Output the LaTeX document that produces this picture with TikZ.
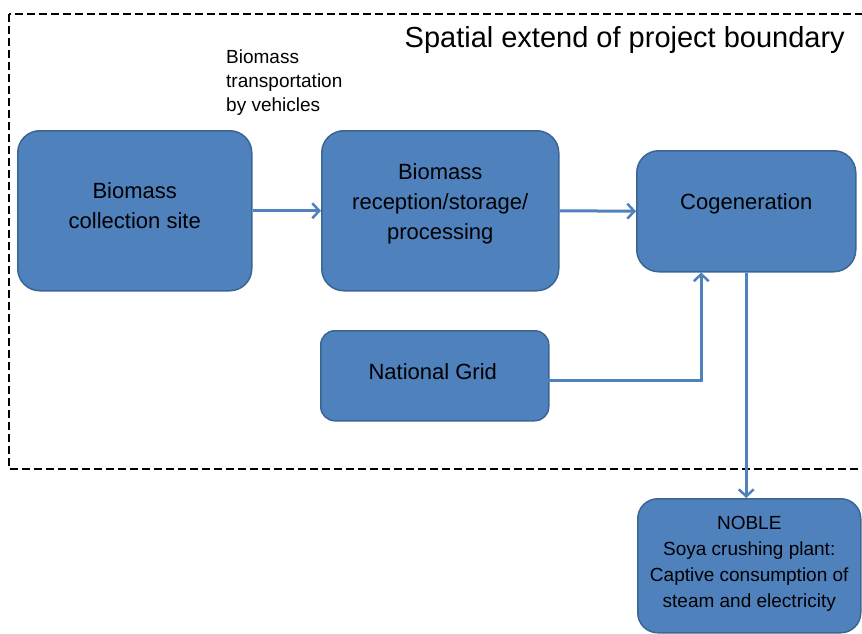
\documentclass[tikz,border=0pt]{standalone}
\usepackage{fontspec}
\setmainfont{Liberation Sans}
\usetikzlibrary{arrows.meta}
\definecolor{boxfill}{HTML}{4F81BD}
\definecolor{boxedge}{HTML}{3B6593}
\begin{document}
\begin{tikzpicture}[x=1pt,y=-1pt,
  box/.style={draw=boxedge, fill=boxfill, line width=1.5pt, rounded corners=22pt,
    anchor=north west, inner sep=0pt},
  boxtext/.style={align=center, inner sep=0pt, font=\fontsize{22}{30}\selectfont},
  conn/.style={draw=boxfill, line width=3pt,
    -{Straight Barb[length=7pt,width=15pt,line width=2.5pt]}},
  boundary/.style={line width=2.5pt, dash pattern=on 8pt off 4pt}]
\useasboundingbox (0,0) rectangle (862,634);
\draw[boundary] (9,14) rectangle (875,469);
\node[anchor=east, inner sep=0pt, font=\fontsize{29}{34}\selectfont] (title) at (845,40) {Spatial extend of project boundary};
\node[anchor=north west, align=left, inner sep=0pt, font=\fontsize{19}{24}\selectfont] (trans) at (226,50) {Biomass\\transportation\\by vehicles};
\node[box, minimum width=234pt, minimum height=160pt] (coll) at (17,130) {};
\node[box, minimum width=237pt, minimum height=160pt] (rec) at (321,130) {};
\node[box, minimum width=219pt, minimum height=121pt] (cog) at (636,150) {};
\node[box, rounded corners=14pt, minimum width=228pt, minimum height=90pt] (grid) at (320,330) {};
\node[box, rounded corners=20pt, minimum width=223pt, minimum height=134pt] (noble) at (637,498) {};
\node[boxtext] (colltxt) at ([yshift=5pt]coll.center) {Biomass\\collection site};
\node[boxtext] (rectxt) at ([yshift=7pt]rec.center) {Biomass\\reception/storage/\\processing};
\node[boxtext] (cogtxt) at ([yshift=7pt]cog.center) {Cogeneration};
\node[boxtext] (gridtxt) at ([shift={(-2,-4)}]grid.center) {National Grid};
\node[boxtext, font=\fontsize{19}{26}\selectfont] (nobletxt) at ([yshift=2pt]noble.center) {NOBLE\\Soya crushing plant:\\Captive consumption of\\steam and electricity};
\draw[conn] (coll.east) -- (rec.west);
\draw[conn] (rec.east) -- (cog.west);
\draw[conn] ([shift={(-44,5)}]grid.east) -| ([xshift=-45pt]cog.south);
\draw[conn] (cog.south) -- (cog.south |- noble.north);
\end{tikzpicture}
\end{document}
